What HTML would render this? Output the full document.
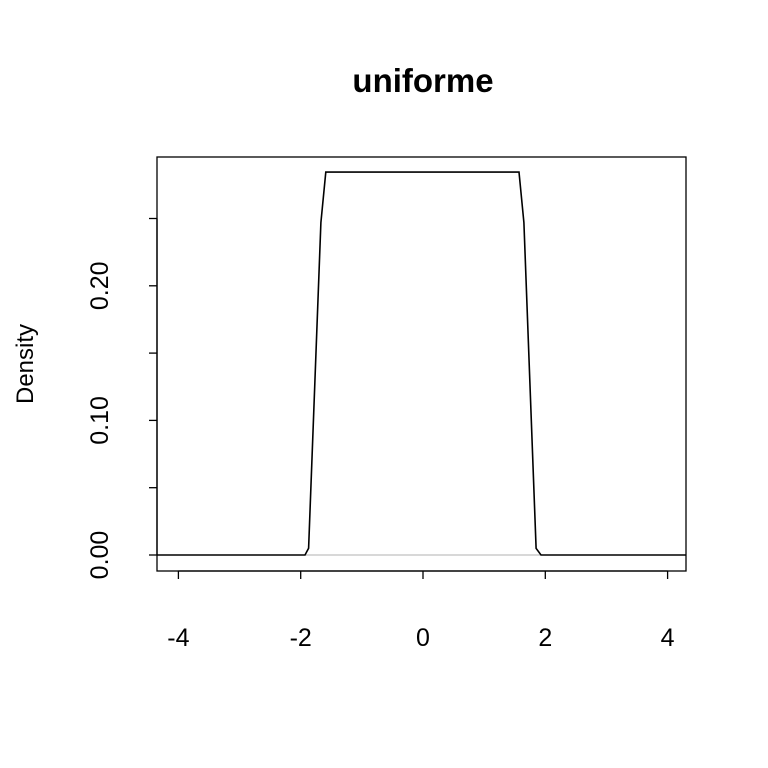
<!DOCTYPE html>
<html><head><meta charset="utf-8"><style>
body{margin:0;background:#fff}
svg{display:block}
text{font-family:"Liberation Sans",Arial,sans-serif;fill:#000}
</style></head><body>
<svg width="768" height="768">
<text x="423" y="92" font-size="33" font-weight="bold" text-anchor="middle">uniforme</text>
<text transform="translate(33,364) rotate(-90)" font-size="24" text-anchor="middle">Density</text>
<line x1="157" y1="555" x2="686" y2="555" stroke="#b0b0b0" stroke-width="1"/>
<g id="xaxis"></g>
<g id="yaxis"></g>
<path id="curve" fill="none" stroke="#000" stroke-width="1.6"/>
<rect x="157" y="157" width="529" height="414" fill="none" stroke="#000" stroke-width="1.3"/>
</svg>
<script>
const xs=[-4.35,-1.93,-1.87,-1.67,-1.59,1.57,1.65,1.85,1.93,4.3];
const ys=[0,0,0.005,0.247,0.2845,0.2845,0.247,0.005,0,0];
const xTicks=[-4,-2,0,2,4];
const yTicks=[0,0.05,0.10,0.15,0.20,0.25];
const yLabels=["0.00","","0.10","","0.20",""];
const sx=v=>423+v*61.15;
const sy=v=>555-v*1346;
const NS="http://www.w3.org/2000/svg";
let d=xs.map((x,i)=>(i?"L":"M")+sx(x).toFixed(1)+","+sy(ys[i]).toFixed(1)).join(" ");
document.getElementById('curve').setAttribute('d',d);
const xa=document.getElementById('xaxis');
let l=document.createElementNS(NS,'line');
l.setAttribute('x1',sx(-4));l.setAttribute('x2',sx(4));l.setAttribute('y1',571);l.setAttribute('y2',571);
l.setAttribute('stroke','#000');l.setAttribute('stroke-width','1.3');


xa.appendChild(l);
xTicks.forEach(v=>{
 const t=document.createElementNS(NS,'line');
 t.setAttribute('x1',sx(v));t.setAttribute('x2',sx(v));t.setAttribute('y1',571);t.setAttribute('y2',579);
 t.setAttribute('stroke','#000');t.setAttribute('stroke-width','1.3');
 
 
 xa.appendChild(t);
 const tx=document.createElementNS(NS,'text');
 tx.setAttribute('x',sx(v));tx.setAttribute('y',646);tx.setAttribute('font-size','25');tx.setAttribute('text-anchor','middle');
 tx.textContent=String(v);
 
 
 xa.appendChild(tx);
});
const ya=document.getElementById('yaxis');
l=document.createElementNS(NS,'line');
l.setAttribute('x1',157);l.setAttribute('x2',157);l.setAttribute('y1',sy(0));l.setAttribute('y2',sy(0.25));
l.setAttribute('stroke','#000');l.setAttribute('stroke-width','1.3');


ya.appendChild(l);
yTicks.forEach((v,i)=>{
 const t=document.createElementNS(NS,'line');
 t.setAttribute('x1',149);t.setAttribute('x2',157);t.setAttribute('y1',sy(v));t.setAttribute('y2',sy(v));
 t.setAttribute('stroke','#000');t.setAttribute('stroke-width','1.3');
 
 
 ya.appendChild(t);
 if(yLabels[i]){
  const tx=document.createElementNS(NS,'text');
  tx.setAttribute('transform','translate(108,'+sy(v)+') rotate(-90)');
  tx.setAttribute('font-size','25');tx.setAttribute('text-anchor','middle');
  tx.textContent=yLabels[i];
  
  
  ya.appendChild(tx);
 }
});
</script>
</body></html>
